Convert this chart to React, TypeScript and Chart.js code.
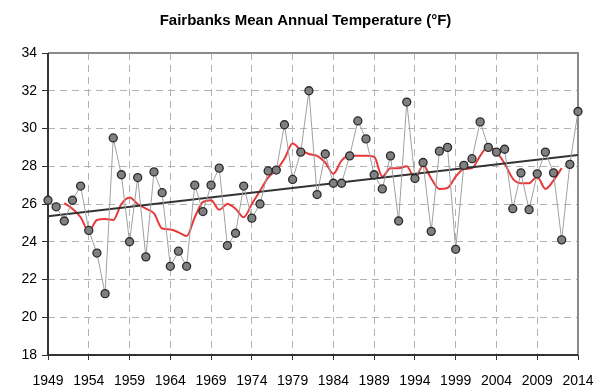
import React, { useEffect, useRef } from "react";
import { Chart, registerables } from "chart.js";

Chart.register(...registerables);

const years: number[] = Array.from({ length: 66 }, (_, i) => 1949 + i);

const meanTemp: number[] = [
  26.2, 25.85, 25.1, 26.2, 26.95, 24.6, 23.4, 21.25, 29.5, 27.55,
  24.0, 27.4, 23.2, 27.7, 26.6, 22.7, 23.5, 22.7, 27.0, 25.6,
  27.0, 27.9, 23.8, 24.45, 26.95, 25.25, 26.0, 27.75, 27.8, 30.2,
  27.3, 28.75, 32.0, 26.5, 28.65, 27.1, 27.1, 28.55, 30.4, 29.45,
  27.55, 26.8, 28.55, 25.1, 31.4, 27.35, 28.2, 24.55, 28.8, 29.0,
  23.6, 28.05, 28.4, 30.35, 29.0, 28.75, 28.9, 25.75, 27.65, 25.7,
  27.6, 28.75, 27.65, 24.1, 28.1, 30.9,
];

const smoothYears: number[] = Array.from({ length: 62 }, (_, i) => 1951 + i);
const smoothTemp: number[] = [
  26.05, 25.75, 25.3, 24.55, 25.15, 25.2, 25.15, 26.0, 26.35, 26.0,
  25.75, 25.5, 24.7, 24.65, 24.5, 24.3, 25.3, 26.1, 26.2, 25.7,
  26.0, 25.75, 25.3, 26.0, 26.7, 27.4, 27.8, 28.4, 29.2, 28.85,
  28.65, 28.55, 28.2, 27.6, 28.3, 28.55, 28.55, 28.55, 28.5, 27.45,
  27.9, 27.9, 28.0, 27.35, 28.05, 27.35, 26.8, 26.85, 27.45, 27.85,
  27.9, 28.55, 29.05, 28.75, 28.15, 27.35, 27.1, 27.1, 27.45, 26.8,
  27.25, 27.9,
];

const trendYears: number[] = [1949, 2014];
const trendTemp: number[] = [25.35, 28.6];

const yTicks: number[] = [18, 20, 22, 24, 26, 28, 30, 32, 34];
const xTicks: number[] = [1949, 1954, 1959, 1964, 1969, 1974, 1979, 1984, 1989, 1994, 1999, 2004, 2009, 2014];

const FONT = "'Liberation Sans', Arial, sans-serif";

const framePlugin = {
  id: "frame",
  beforeDatasetsDraw(chart: any) {
    const { ctx, chartArea } = chart;
    ctx.save();
    ctx.lineWidth = 2;
    ctx.strokeStyle = "#8a8a8a";
    ctx.beginPath();
    ctx.moveTo(chartArea.left, chartArea.top);
    ctx.lineTo(chartArea.right, chartArea.top);
    ctx.lineTo(chartArea.right, chartArea.bottom);
    ctx.stroke();
    ctx.strokeStyle = "#333333";
    ctx.beginPath();
    ctx.moveTo(chartArea.left, chartArea.top);
    ctx.lineTo(chartArea.left, chartArea.bottom);
    ctx.lineTo(chartArea.right, chartArea.bottom);
    ctx.stroke();
    ctx.restore();
  },
};

export default function App() {
  const ref = useRef<HTMLCanvasElement | null>(null);

  useEffect(() => {
    document.body.style.margin = "0";
    const canvas = ref.current;
    if (!canvas) return;
    const chart = new Chart(canvas, {
      type: "line",
      data: {
        datasets: [
          {
            label: "Trend",
            data: trendYears.map((x, i) => ({ x, y: trendTemp[i] })),
            borderColor: "#333333",
            borderWidth: 2,
            pointRadius: 0,
            order: 1,
          },
          {
            label: "Smoothed",
            data: smoothYears.map((x, i) => ({ x, y: smoothTemp[i] })),
            borderColor: "#e8393a",
            borderWidth: 2,
            pointRadius: 0,
            cubicInterpolationMode: "monotone",
            order: 2,
          },
          {
            label: "Annual mean",
            data: years.map((x, i) => ({ x, y: meanTemp[i] })),
            borderColor: "#a0a0a0",
            borderWidth: 1,
            pointRadius: 4,
            pointBackgroundColor: "#808080",
            pointBorderColor: "#2a2a2a",
            pointBorderWidth: 1.3,
            tension: 0,
            clip: false,
            order: 0,
          },
        ],
      },
      options: {
        animation: false,
        responsive: false,
        maintainAspectRatio: false,
        layout: { padding: 0 },
        plugins: {
          legend: { display: false },
          tooltip: { enabled: false },
          title: {
            display: true,
            text: "Fairbanks Mean Annual Temperature (°F)",
            color: "#000000",
            font: { family: FONT, size: 15, weight: "bold" },
            padding: { top: 12, bottom: 23 },
          },
        },
        scales: {
          x: {
            type: "linear",
            min: 1949,
            max: 2014,
            afterBuildTicks: (scale: any) => {
              scale.ticks = xTicks.map((v) => ({ value: v }));
            },
            afterFit: (scale: any) => {
              scale.height = 37;
            },
            ticks: {
              color: "#000000",
              font: { family: FONT, size: 14 },
              padding: 13,
              maxRotation: 0,
              autoSkip: false,
              callback: (v: any) => String(v),
            },
            grid: {
              color: "#b3b3b3",
              lineWidth: 1,
              tickLength: 5,
              tickColor: "#333333",
            },
            border: { display: false, dash: [7, 5] },
          },
          y: {
            type: "linear",
            min: 18,
            max: 34,
            afterBuildTicks: (scale: any) => {
              scale.ticks = yTicks.map((v) => ({ value: v }));
            },
            afterFit: (scale: any) => {
              scale.width = 48;
            },
            ticks: {
              color: "#000000",
              font: { family: FONT, size: 14 },
              padding: 5,
            },
            grid: {
              color: "#b3b3b3",
              lineWidth: 1,
              tickLength: 6,
              tickColor: "#333333",
            },
            border: { display: false, dash: [7, 5] },
          },
          yRight: {
            type: "linear",
            position: "right",
            min: 18,
            max: 34,
            afterFit: (scale: any) => {
              scale.width = 33;
            },
            ticks: { display: false },
            grid: { display: false, drawOnChartArea: false, drawTicks: false },
            border: { display: false },
          },
        },
      },
      plugins: [framePlugin],
    } as any);
    return () => chart.destroy();
  }, []);

  return (
    <div style={{ width: 611, height: 392 }}>
      <canvas ref={ref} width={611} height={392} style={{ display: "block" }} />
    </div>
  );
}
